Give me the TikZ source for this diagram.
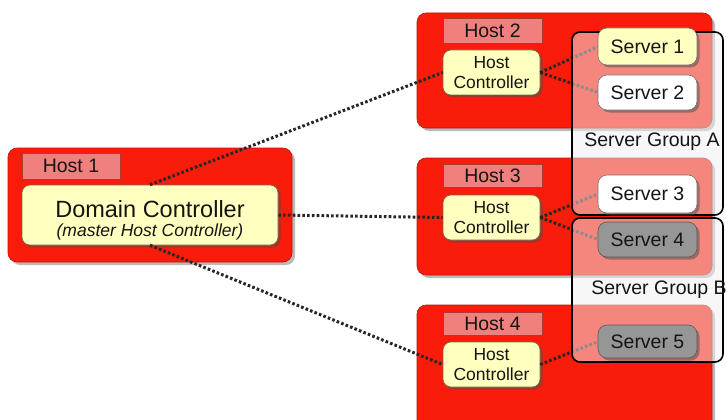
\documentclass[tikz,border=0pt]{standalone}
\usepackage{fontspec}
\setmainfont{Liberation Sans}
\usetikzlibrary{shadows}
\definecolor{hostred}{RGB}{250,28,10}
\definecolor{hostborder}{RGB}{190,20,10}
\definecolor{labelfill}{RGB}{240,128,125}
\definecolor{labelborder}{RGB}{170,60,55}
\definecolor{hcfill}{RGB}{255,255,192}
\definecolor{hcborder}{RGB}{110,110,70}
\definecolor{srvgray}{RGB}{150,150,150}
\definecolor{txt}{RGB}{20,20,20}
\tikzset{
  host/.style={draw=hostborder, line width=0.6pt, fill=hostred, rounded corners=9pt, inner sep=0pt,
    drop shadow={shadow xshift=3pt, shadow yshift=-3pt, opacity=0.45, fill=black!60}},
  hostlabel/.style={draw=labelborder, line width=0.6pt, fill=labelfill, inner sep=0pt, text=txt,
    font=\fontsize{19.5}{20}\selectfont},
  hcbox/.style={draw=hcborder, line width=0.6pt, fill=hcfill, rounded corners=8pt, inner sep=0pt, text=txt,
    align=center, font=\fontsize{17.5}{19.5}\selectfont,
    drop shadow={shadow xshift=2.5pt, shadow yshift=-2.5pt, opacity=0.5, fill=black!70}},
  srv/.style={draw=black!55, line width=0.6pt, fill=white, rounded corners=9pt, inner sep=0pt, text=txt,
    minimum width=99, font=\fontsize{19.5}{20}\selectfont,
    drop shadow={shadow xshift=2.5pt, shadow yshift=-2.5pt, opacity=0.5, fill=black!70}},
  grp/.style={draw=black, line width=1.6pt, fill=gray!12, fill opacity=0.5, draw opacity=1,
    rounded corners=8pt, inner sep=0pt},
  grplabel/.style={text=txt, font=\fontsize{19.5}{20}\selectfont, inner sep=0pt},
  conn/.style={line width=3pt, dash pattern=on 2.6pt off 2.2pt, draw=black!85},
}
\begin{document}
\begin{tikzpicture}[x=1pt,y=-1pt]
\useasboundingbox (0,0) rectangle (726,420);
\fill[white] (0,0) rectangle (726,420);
\clip (0,0) rectangle (726,420);

% Hosts
\node[host, minimum width=284, minimum height=114] (h1) at (150,205) {};
\node[host, minimum width=295, minimum height=115] (h2) at (564.5,70.5) {};
\node[host, minimum width=295, minimum height=117] (h3) at (564.5,216.5) {};
\node[host, minimum width=295, minimum height=125] (h4) at (564.5,367.5) {};

% Host labels
\node[hostlabel, minimum width=98, minimum height=26] (l1) at (71,166) {Host 1};
\node[hostlabel, minimum width=99, minimum height=25] (l2) at (492.5,30.5) {Host 2};
\node[hostlabel, minimum width=99, minimum height=23] (l3) at (492.5,176) {Host 3};
\node[hostlabel, minimum width=99, minimum height=23] (l4) at (492.5,323.5) {Host 4};

% Controllers
\node[hcbox, minimum width=256, minimum height=60] (dc) at (150,215)
  {\fontsize{23.5}{24}\selectfont\rule{0pt}{28pt}Domain Controller\\ \fontsize{17.5}{24}\selectfont\itshape (master Host Controller)};
\node[hcbox, minimum width=97, minimum height=45] (hc2) at (491.5,72.5) {Host\\Controller};
\node[hcbox, minimum width=97, minimum height=45] (hc3) at (491.5,217.5) {Host\\Controller};
\node[hcbox, minimum width=97, minimum height=45] (hc4) at (491.5,364.5) {Host\\Controller};

% Connector end points at the servers' left sides
\coordinate (s1w) at (598,46.5);
\coordinate (s2w) at (598,92.5);
\coordinate (s3w) at (598,194);
\coordinate (s4w) at (598,239.5);
\coordinate (s5w) at (598,341.5);

% Connectors
\draw[conn] (dc.north) -- (hc2.west);
\draw[conn] (dc.east) -- (hc3.west);
\draw[conn] (dc.south) -- (hc4.west);
\draw[conn] (hc2.east) -- (s1w);
\draw[conn] (hc2.east) -- (s2w);
\draw[conn] (hc3.east) -- (s3w);
\draw[conn] (hc3.east) -- (s4w);
\draw[conn] (hc4.east) -- (s5w);

% Server groups
\node[grp, minimum width=151, minimum height=183] (ga) at (647.5,123.5) {};
\node[grp, minimum width=151, minimum height=144] (gb) at (647.5,290) {};
\node[grplabel] (gal) at (652,142) {Server Group A};
\node[grplabel] (gbl) at (659,290) {Server Group B};

% Servers
\node[srv, fill=hcfill, minimum height=37] (s1) at (647.5,46.5) {Server 1};
\node[srv, minimum height=35] (s2) at (647.5,92.5) {Server 2};
\node[srv, minimum height=38] (s3) at (647.5,194) {Server 3};
\node[srv, fill=srvgray, draw=black!65, minimum height=35] (s4) at (647.5,239.5) {Server 4};
\node[srv, fill=srvgray, draw=black!65, minimum height=33] (s5) at (647.5,341.5) {Server 5};
\end{tikzpicture}
\end{document}
